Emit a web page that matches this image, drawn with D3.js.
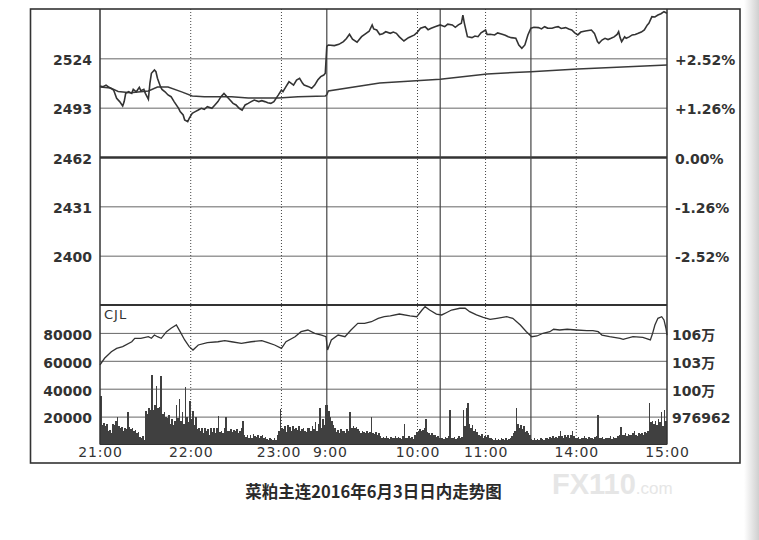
<!DOCTYPE html>
<html><head><meta charset="utf-8">
<script src="https://cdn.jsdelivr.net/npm/d3@7"></script>
<style>body{margin:0;background:#fff} svg{display:block}</style>
</head><body><svg id="c" width="759" height="540"></svg>
<script>
// ---------- data ----------
const tickMinutes = [0, 60, 120, 150, 210, 255, 315, 375];
const timeLabels = ["21:00", "22:00", "23:00", "9:00", "10:00", "11:00", "14:00", "15:00"];
const dottedMinutes = [60, 120, 210, 255, 315];
const sessionMinutes = [150, 225, 285];

const priceTicks = [2400, 2431, 2462, 2493, 2524];
const pctLabels = ["-2.52%", "-1.26%", "0.00%", "+1.26%", "+2.52%"];
const volTicks = [20000, 40000, 60000, 80000];
const oiLabels = ["976962", "100万", "103万", "106万"];

const priceMinutes = [0,2,4,6,9,11,13,15,16,17,19,21,22,24,26,27,29,30,32,33,34,36,37,38,40,41,43,45,47,49,52,53,55,56,58,59,61,63,65,67,69,71,74,76,78,80,82,84,86,88,90,92,94,96,98,100,102,105,107,109,111,113,115,118,120,121,123,125,128,130,132,134,135,138,140,142,144,146,148,149,
150,151,155,158,161,163,165,167,170,173,176,178,180,181,183,185,187,189,192,194,196,198,201,204,208,210,212,215,217,219,222,225,228,230,233,235,237,239,240,241,243,246,248,250,252,255,256,258,261,263,266,268,270,272,275,277,279,281,283,285,287,290,292,294,296,299,301,303,305,308,310,312,314,316,318,321,323,325,327,329,330,332,334,336,338,340,342,343,344,345,347,348,350,352,354,356,358,360,362,363,365,367,369,371,373,375];
const priceValues = [2506.6,2506.2,2507.2,2505.8,2504.1,2498.9,2496.8,2494.1,2496.8,2502.0,2503.0,2502.0,2504.5,2503.0,2505.8,2503.7,2504.5,2502.0,2498.3,2508.3,2514.6,2516.7,2515.6,2511.5,2506.2,2504.5,2503.0,2501.0,2499.9,2496.8,2492.6,2490.5,2488.4,2485.3,2484.2,2486.3,2489.5,2490.5,2491.5,2492.6,2492.0,2493.6,2492.6,2494.7,2496.8,2499.9,2502.0,2499.9,2497.8,2495.7,2494.7,2492.6,2491.5,2494.7,2495.7,2496.8,2497.8,2496.8,2497.4,2496.8,2496.1,2495.7,2496.8,2501.0,2504.1,2503.0,2506.2,2509.3,2507.2,2510.4,2511.5,2508.3,2507.2,2506.2,2505.2,2507.2,2510.4,2512.5,2513.5,2514.6,
2531.5,2532.4,2532.0,2532.8,2534.5,2536.5,2539.1,2536.0,2534.1,2537.6,2539.7,2541.0,2545.0,2542.5,2541.8,2539.0,2539.5,2540.7,2539.7,2540.5,2539.7,2537.5,2534.9,2537.0,2538.7,2540.5,2542.9,2543.9,2542.0,2542.9,2544.0,2545.0,2543.9,2545.5,2545.0,2543.5,2545.0,2546.0,2551.2,2546.0,2537.6,2537.0,2538.0,2537.6,2540.0,2541.8,2539.0,2539.1,2538.7,2540.0,2539.1,2538.5,2537.6,2537.0,2536.6,2532.4,2530.3,2532.4,2538.7,2542.9,2543.5,2543.3,2542.5,2543.9,2543.0,2542.9,2543.5,2543.9,2542.8,2543.3,2542.5,2541.8,2540.0,2538.7,2540.5,2541.2,2541.5,2541.8,2539.7,2534.5,2533.5,2535.5,2536.6,2535.8,2536.6,2537.5,2539.0,2540.7,2537.0,2534.5,2537.5,2536.6,2537.5,2538.7,2539.0,2539.7,2540.5,2541.8,2545.0,2546.0,2550.2,2550.0,2551.2,2552.0,2553.3,2552.3];

const avgMinutes = [0,7,12,20,32,38,45,54,61,69,87,98,118,131,149,150,151,185,225,256,285,316,375];
const avgValues = [2506.0,2505.4,2503.2,2502.4,2503.5,2506.0,2506.0,2502.9,2500.4,2499.8,2499.8,2499.1,2499.1,2499.8,2500.4,2501.1,2503.5,2508.5,2510.8,2514.2,2515.6,2517.3,2519.8];

const oiMinutes = [0,3,7.5,11,15,21,23,27,32,34,36,38,40.5,44,47,50.5,53,56,59,61.5,65,71,78,82.5,87,93.5,100,107,111,115.5,120,123,129,133,137.5,142,146.5,149.5,150.5,153,157.5,162,166,170.5,175,179.5,184,188,192,198,205,209.5,213,215,218,222.5,226,229,232.5,238,241.5,244.5,249,253.5,258,262.5,269,273,278,282,285.5,289,293,297.5,300,304,309,315,322,326,329.5,332,337,344,346,352.5,359,364,365.5,367,369,371.5,373,374.3,375];
const oiValues = [1025500,1032700,1039800,1043400,1045200,1050500,1054200,1054200,1055900,1054200,1057700,1055900,1054200,1061300,1065000,1068500,1061300,1052400,1045200,1041600,1047000,1049500,1050500,1051600,1050500,1048800,1050500,1051600,1049500,1047000,1043400,1050500,1055900,1061300,1063100,1059600,1057700,1055900,1041600,1052400,1057700,1055900,1063100,1070300,1070300,1072000,1075700,1077400,1078200,1080300,1078200,1077400,1084600,1088200,1084600,1080300,1079300,1081700,1084600,1086500,1086500,1082800,1079300,1076800,1074600,1075700,1077400,1075700,1068500,1061300,1055900,1056700,1059600,1061300,1063900,1063100,1063900,1063100,1062400,1062400,1061300,1057700,1055900,1054200,1053100,1055900,1055300,1052400,1059600,1068500,1075700,1077400,1073900,1065000,1057700];

const volumes = [
35000,14000,15500,13000,14500,9500,10500,8000,15000,14000,
17000,19500,13000,11500,12500,10000,12000,11000,23000,12500,
11000,12000,9500,10500,8000,9000,5500,4500,6000,3500,
24000,22000,26000,25000,50000,25000,28000,42000,26000,27000,
49000,22000,23000,20000,19000,21000,15000,18000,14000,17000,
28000,19000,32500,17000,23000,15000,41000,20000,16000,31000,
18000,24000,14000,20000,11000,12000,10000,11500,8500,12000,
10000,11000,7000,12000,9000,11500,8000,12000,20500,9000,
10000,8000,11500,19500,9500,10000,11000,9000,10500,9500,
11000,8000,10000,12000,17000,6500,5500,7000,5000,6500,
5000,7500,6000,5500,6500,4500,6000,7000,5000,5500,
4000,3500,5000,4000,3000,4500,3500,7000,10000,25500,
12000,11000,13000,9000,14000,12500,10000,13500,11000,12000,
10500,13000,9500,11000,12000,10000,9000,11500,12000,10000,
13000,11000,16000,10000,15000,26500,12000,18000,14000,28000,
28000,24000,20000,17000,14000,12000,9000,10500,8000,11000,
9500,10000,8500,11000,10000,23000,12000,13000,11500,12500,
11000,10000,8000,9500,9000,8500,9500,8000,9000,19500,
8000,7500,9000,7000,8500,6000,5000,5500,4500,6000,
5000,4000,5500,4500,5000,6000,4500,5500,5000,4000,
6000,15000,5000,4500,6000,5000,5500,4000,6500,9000,
10000,11000,9500,10500,12000,18500,9000,8000,7000,8500,
6500,7000,5500,6000,5000,
4500,5000,4000,5500,4500,
6000,25000,5000,4500,5500,4000,5000,6000,4500,5500,
24500,13000,26000,29500,15000,12000,14000,10000,11000,9000,
7000,6000,7500,5000,6000,5500,7000,4500,5000,4000,
3500,4500,3000,4000,3500,5000,4000,3000,4500,3500,
4000,5000,6000,8000,10000,26000,15000,12000,14000,11000,
13000,9000,10000,8000,7000,
4000,3500,4500,3000,4000,3500,4500,4000,3000,4500,
5000,4000,5500,4500,6000,5000,5500,4500,6000,10000,
6000,5000,7000,5500,6500,5000,7000,10000,6000,5000,
4500,5500,4000,5000,4500,6000,5000,4000,5500,4500,
5000,4000,5500,6000,21000,5000,4500,5500,4000,5000,
4500,5000,6000,4000,5500,5000,4500,6000,7000,12500,
7000,6500,8000,6000,7500,6500,7000,8000,10000,7000,
6000,8000,7500,8500,6500,9000,8000,10000,30000,16000,
17000,15000,16500,14000,18000,16000,23500,13000,25000,17000];

const caption = "菜粕主连2016年6月3日日内走势图";

// ---------- drawing ----------
const svg = d3.select("#c");
const L = 100, R = 667, T = 9, MID = 305, B = 444.5;
const x = d3.scaleLinear().domain([0, 375]).range([L, R]);
const yP = d3.scaleLinear().domain([2369, 2555]).range([MID, T]);
const yV = d3.scaleLinear().domain([0, 100000]).range([B, MID]);
const yOI = d3.scaleLinear().domain([940000, 1090000]).range([B, MID]);

svg.append("rect").attr("width", 759).attr("height", 540).attr("fill", "#fff");
const defs = svg.append("defs");
const grad = defs.append("linearGradient").attr("id", "edge").attr("x1", 0).attr("x2", 1);
grad.append("stop").attr("offset", 0).attr("stop-color", "#fff");
grad.append("stop").attr("offset", 1).attr("stop-color", "#cfcfcf");
svg.append("rect").attr("x", 744).attr("y", 0).attr("width", 15).attr("height", 540).attr("fill", "url(#edge)");

const numFont = "'DejaVu Sans', Verdana, sans-serif";

// horizontal grid + left labels
const gP = svg.append("g").attr("transform", `translate(${L},0)`)
  .call(d3.axisLeft(yP).tickValues(priceTicks).tickSize(-(R - L)).tickPadding(8).tickFormat(d3.format("d")));
const gV = svg.append("g").attr("transform", `translate(${L},0)`)
  .call(d3.axisLeft(yV).tickValues(volTicks).tickSize(-(R - L)).tickPadding(8).tickFormat(d3.format("d")));
[gP, gV].forEach(g => {
  g.select(".domain").remove();
  g.selectAll(".tick line").attr("stroke", "#666").attr("stroke-width", 1);
  g.selectAll(".tick text").attr("font-family", numFont).attr("font-weight", "bold")
    .attr("font-size", 14).attr("fill", "#333").attr("dy", "0.45em");
});
gP.selectAll(".tick line").filter(d => d === 2462).attr("stroke", "#333").attr("stroke-width", 2.6);

// right labels
const gPR = svg.append("g").attr("transform", `translate(${R},0)`)
  .call(d3.axisRight(yP).tickValues(priceTicks).tickSize(0).tickPadding(8).tickFormat((d, i) => pctLabels[i]));
const gVR = svg.append("g").attr("transform", `translate(${R},0)`)
  .call(d3.axisRight(yV).tickValues(volTicks).tickSize(0).tickPadding(5).tickFormat((d, i) => oiLabels[i]));
[gPR, gVR].forEach(g => {
  g.select(".domain").remove();
  g.selectAll(".tick text").attr("font-family", numFont).attr("font-weight", "bold")
    .attr("font-size", 14).attr("fill", "#333").attr("dy", "0.45em");
});
gVR.selectAll(".tick text").attr("font-family", "'DejaVu Sans', 'Noto Sans CJK SC', sans-serif");

// vertical grid
svg.append("g").selectAll("line").data(dottedMinutes).join("line")
  .attr("x1", d => x(d)).attr("x2", d => x(d)).attr("y1", T).attr("y2", B)
  .attr("stroke", "#444").attr("stroke-width", 1).attr("stroke-dasharray", "1,2");
svg.append("g").selectAll("line").data(sessionMinutes).join("line")
  .attr("x1", d => x(d)).attr("x2", d => x(d)).attr("y1", T).attr("y2", B)
  .attr("stroke", "#444").attr("stroke-width", 1.2);

// volume bars
svg.append("g").attr("shape-rendering", "crispEdges").selectAll("rect").data(volumes).join("rect")
  .attr("x", (d, i) => x(i)).attr("width", (d, i) => x(i + 1) - x(i))
  .attr("y", d => yV(d)).attr("height", d => B - yV(d)).attr("fill", "#404040");

// panel frame
const frame = svg.append("g").attr("stroke", "#333").attr("fill", "none");
frame.append("line").attr("x1", L).attr("x2", L).attr("y1", T).attr("y2", B).attr("stroke-width", 1.5);
frame.append("line").attr("x1", R).attr("x2", R).attr("y1", T).attr("y2", B).attr("stroke-width", 1.5);
frame.append("line").attr("x1", L).attr("x2", R).attr("y1", MID).attr("y2", MID).attr("stroke-width", 2);
frame.append("line").attr("x1", L).attr("x2", R).attr("y1", B).attr("y2", B).attr("stroke-width", 1);
svg.append("rect").attr("x", 30.5).attr("y", 9).attr("width", 709.5).attr("height", 454)
  .attr("fill", "none").attr("stroke", "#333").attr("stroke-width", 1.6);

// lines
const zip = (a, b) => a.map((m, i) => [m, b[i]]);
svg.append("path").datum(zip(avgMinutes, avgValues))
  .attr("d", d3.line().x(d => x(d[0])).y(d => yP(d[1])))
  .attr("fill", "none").attr("stroke", "#3a3a3a").attr("stroke-width", 1.5);
svg.append("path").datum(zip(priceMinutes, priceValues))
  .attr("d", d3.line().x(d => x(d[0])).y(d => yP(d[1])))
  .attr("fill", "none").attr("stroke", "#333").attr("stroke-width", 1.6);
svg.append("path").datum(zip(oiMinutes, oiValues))
  .attr("d", d3.line().x(d => x(d[0])).y(d => yOI(d[1])))
  .attr("fill", "none").attr("stroke", "#333").attr("stroke-width", 1.3);

svg.append("text").attr("x", 104).attr("y", 319).text("CJL")
  .attr("font-family", numFont).attr("font-size", 13).attr("letter-spacing", 1).attr("fill", "#333");

// x axis labels
const labelShift = {120: -3, 150: 3};
const gX = svg.append("g").attr("transform", `translate(0,${B})`)
  .call(d3.axisBottom(x).tickValues(tickMinutes).tickSize(0).tickPadding(3).tickFormat((d, i) => timeLabels[i]));
gX.select(".domain").remove();
gX.selectAll(".tick text").attr("font-family", numFont).attr("font-size", 14)
  .attr("letter-spacing", 0.8).attr("fill", "#333")
  .attr("dx", d => labelShift[d] || 0);

// caption
svg.append("text").attr("x", 373.5).attr("y", 498).attr("text-anchor", "middle")
  .attr("font-family", "'Noto Sans CJK SC', sans-serif").attr("font-weight", "bold")
  .attr("font-size", 16.5).attr("fill", "#2a2a2a").text(caption);

// watermark
const wm = svg.append("text").attr("x", 552).attr("y", 494)
  .attr("font-family", "'Liberation Sans', Arial, sans-serif").attr("font-weight", "bold").attr("fill", "#e6e6e6");
wm.append("tspan").attr("font-size", 29).text("FX110");
wm.append("tspan").attr("font-size", 17).attr("font-weight", "normal").text(".com");
</script></body></html>
